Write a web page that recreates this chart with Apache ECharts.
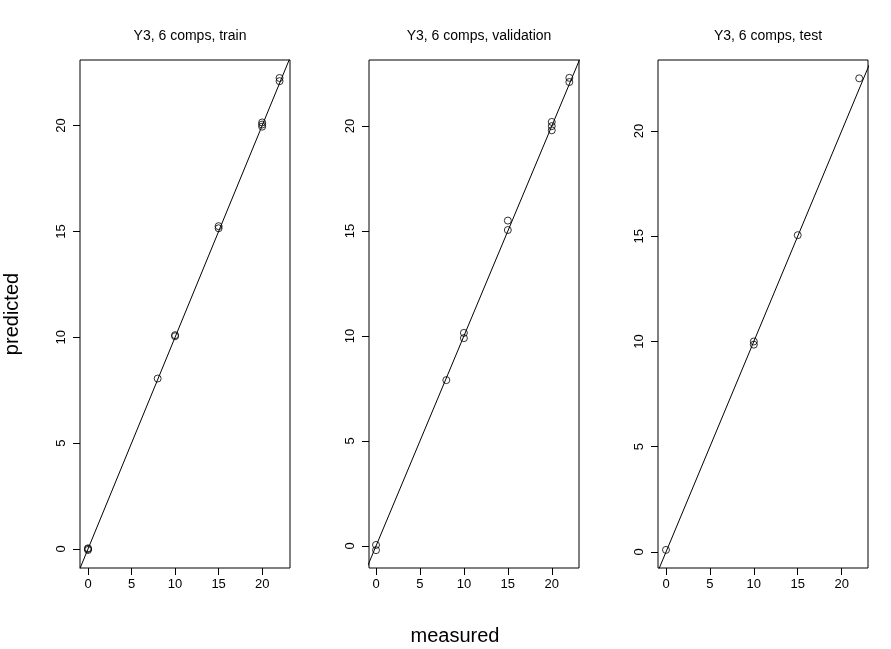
<!DOCTYPE html>
<html><head><meta charset="utf-8">
<script src="https://cdn.jsdelivr.net/npm/echarts@6/dist/echarts.min.js"></script>
<style>body{margin:0;background:#fff}#c{width:891px;height:649px}</style>
</head><body><div id="c"></div>
<script>
const titles = ['Y3, 6 comps, train', 'Y3, 6 comps, validation', 'Y3, 6 comps, test'];
const tickValues = [0, 5, 10, 15, 20];
const trainPts = [[0,0],[0,-0.05],[0,0.03],[8,8.05],[10,10.1],[10,10.05],[15,15.15],[15,15.25],[20,19.95],[20,20.05],[20,20.15],[22,22.1],[22,22.25]];
const validPts = [[0,-0.2],[0,0.05],[8,7.9],[10,9.9],[10,10.15],[15,15.05],[15,15.5],[20,19.8],[20,20.0],[20,20.2],[22,22.1],[22,22.3]];
const testPts = [[0,0.1],[10,9.85],[10,10.0],[15,15.05],[22,22.5]];
const xRanges = [[-0.92,23.2],[-0.8,23.1],[-0.91,23.0]];
const yRanges = [[-0.9,23.1],[-1.05,23.15],[-0.76,23.37]];
const allPts = [trainPts, validPts, testPts];
const lefts = [80, 369, 658];
const w = 210;

const chart = echarts.init(document.getElementById('c'));
const font = 'Arial, Liberation Sans, sans-serif';
const grid = [], xAxis = [], yAxis = [], series = [], title = [];
lefts.forEach((l, i) => {
  grid.push({left: l, top: 60, width: w, height: 508, show: true, borderColor: '#000', borderWidth: 1, backgroundColor: 'transparent'});
  const mk = (min, max, extraLabel) => ({
    gridIndex: i, type: 'value', min, max, splitLine: {show: false},
    axisLine: {show: false, onZero: false},
    axisTick: {show: true, length: 7, lineStyle: {color: '#000'}, customValues: tickValues},
    axisLabel: Object.assign({color: '#000', fontSize: 13, fontFamily: font, customValues: tickValues}, extraLabel)
  });
  xAxis.push(mk(xRanges[i][0], xRanges[i][1], {margin: 10}));
  yAxis.push(mk(yRanges[i][0], yRanges[i][1], {rotate: 90, margin: 12}));
  series.push({type: 'scatter', xAxisIndex: i, yAxisIndex: i, data: allPts[i], symbol: 'circle', symbolSize: 7,
    itemStyle: {color: 'transparent', borderColor: '#000', borderWidth: 1}, silent: true});
  series.push({type: 'line', xAxisIndex: i, yAxisIndex: i, data: [[-3,-3],[26,26]], symbol: 'none', clip: true,
    lineStyle: {color: '#000', width: 1}, silent: true});
  title.push({text: titles[i], left: l + w / 2, top: 24, textAlign: 'center',
    textStyle: {fontSize: 14, fontWeight: 'normal', color: '#000', fontFamily: font}});
});
chart.setOption({
  animation: false,
  title, grid, xAxis, yAxis, series,
  graphic: [
    {type: 'text', x: 12, y: 314, rotation: Math.PI / 2, style: {text: 'predicted', fontSize: 20, fontFamily: font, fill: '#000', align: 'center', verticalAlign: 'middle'}},
    {type: 'text', x: 455, y: 636, style: {text: 'measured', fontSize: 20, fontFamily: font, fill: '#000', align: 'center', verticalAlign: 'middle'}}
  ]
});
</script></body></html>
